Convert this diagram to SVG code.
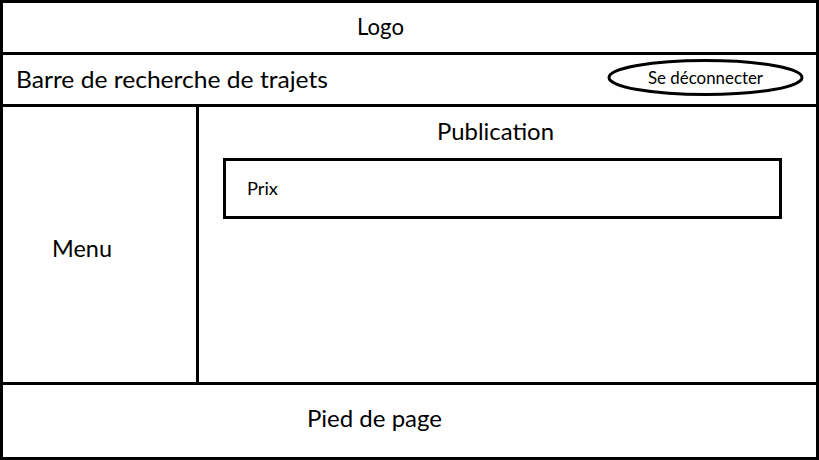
<svg xmlns="http://www.w3.org/2000/svg" width="819" height="460" viewBox="0 0 819 460">
<style>
.ln{fill:none;stroke:#000;stroke-width:3}
.big{font-family:Lato,"Liberation Sans",sans-serif;font-size:24px;fill:#000}
.sm{font-family:Lato,"Liberation Sans",sans-serif;font-size:17px;fill:#000}
</style>
<rect width="819" height="460" fill="#fff"/>
<g id="frame">
<rect class="ln" x="1.5" y="1.5" width="816" height="457"/>
</g>
<g id="connectors">
<line class="ln" x1="0" y1="53.5" x2="819" y2="53.5"/>
<line class="ln" x1="0" y1="105.5" x2="819" y2="105.5"/>
<line class="ln" x1="0" y1="383.5" x2="819" y2="383.5"/>
<line class="ln" x1="197.5" y1="105.5" x2="197.5" y2="383.5"/>
</g>
<g id="logo">
<text class="big" x="357" y="34.5" textLength="47" lengthAdjust="spacingAndGlyphs">Logo</text>
</g>
<g id="search">
<text class="big" x="16" y="87.5" textLength="312" lengthAdjust="spacingAndGlyphs">Barre de recherche de trajets</text>
</g>
<g id="logout">
<ellipse class="ln" cx="705.5" cy="77.5" rx="96.5" ry="17" stroke-width="2.5"/>
<text class="sm" x="648" y="84" textLength="115" lengthAdjust="spacingAndGlyphs">Se déconnecter</text>
</g>
<g id="menu">
<text class="big" x="52" y="256.5" textLength="60" lengthAdjust="spacingAndGlyphs">Menu</text>
</g>
<g id="publication">
<text class="big" x="437" y="139.5" textLength="117" lengthAdjust="spacingAndGlyphs">Publication</text>
</g>
<g id="prix">
<rect class="ln" x="224.5" y="159.5" width="556" height="58"/>
<text class="sm" x="247" y="195" textLength="31" lengthAdjust="spacingAndGlyphs">Prix</text>
</g>
<g id="footer">
<text class="big" x="307" y="426.5" textLength="135" lengthAdjust="spacingAndGlyphs">Pied de page</text>
</g>
</svg>
